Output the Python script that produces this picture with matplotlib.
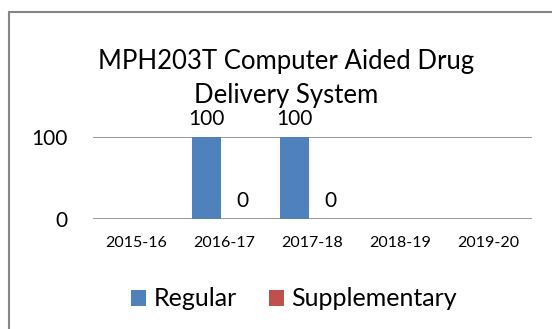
import numpy as np
import matplotlib
matplotlib.use("Agg")
import matplotlib.pyplot as plt
from matplotlib.patches import Rectangle

plt.rcParams["font.family"] = ["Lato", "DejaVu Sans"]

TITLE = "MPH203T Computer Aided Drug\nDelivery System"
YEARS = ["2015-16", "2016-17", "2017-18", "2018-19", "2019-20"]
REGULAR = [np.nan, 100, 100, np.nan, np.nan]
SUPPLEMENTARY = [np.nan, 0, 0, np.nan, np.nan]
SERIES = ["Regular", "Supplementary"]
COLORS = ["#4F81BD", "#C0504D"]
GRID = "#868686"

W, H = 552, 329
fig = plt.figure(figsize=(W / 100, H / 100), dpi=100)

# chart area border (cut off on the right and bottom)
fig.patches.append(Rectangle((9 / W, -0.2), 1.2, 1 - 12 / H + 0.2, transform=fig.transFigure,
                             fill=False, edgecolor=GRID, linewidth=1.5))

ax = fig.add_axes([92.7 / W, 1 - 219.3 / H, (532 - 92.7) / W, (219.3 - 137.3) / H])
x = np.arange(len(YEARS))
offset, width = 0.205, 0.333
for i, (vals, name, col) in enumerate(zip([REGULAR, SUPPLEMENTARY], SERIES, COLORS)):
    bars = ax.bar(x + (i - 0.5) * 2 * offset, vals, width, color=col, label=name, zorder=3)
    labels = ["" if np.isnan(v) else f"{v:g}" for v in vals]
    ax.bar_label(bars, labels=labels, padding=6, fontsize=15, color="black")

ax.set_xlim(-0.5, len(YEARS) - 0.5)
ax.set_ylim(0, 100)
ax.set_yticks([0, 100])
ax.set_xticks(x)
ax.set_xticklabels(YEARS, fontsize=11.5)
ax.tick_params(axis="y", length=0, pad=18, labelsize=15)
ax.tick_params(axis="x", length=0, pad=12)
for s in ax.spines.values():
    s.set_visible(False)
ax.grid(axis="y", color=GRID, linewidth=1.2, zorder=0)
ax.set_facecolor("none")

fig.text(286 / W, 1 - 79 / H, TITLE, ha="center", va="center", fontsize=18.5, linespacing=1.45)

fig.legend(loc="center", bbox_to_anchor=(294 / W, 1 - 299 / H), ncol=2, frameon=False,
           fontsize=18, handlelength=0.6, handleheight=0.6, handletextpad=0.3, columnspacing=1.3)

fig.savefig("out.png", dpi=100)
